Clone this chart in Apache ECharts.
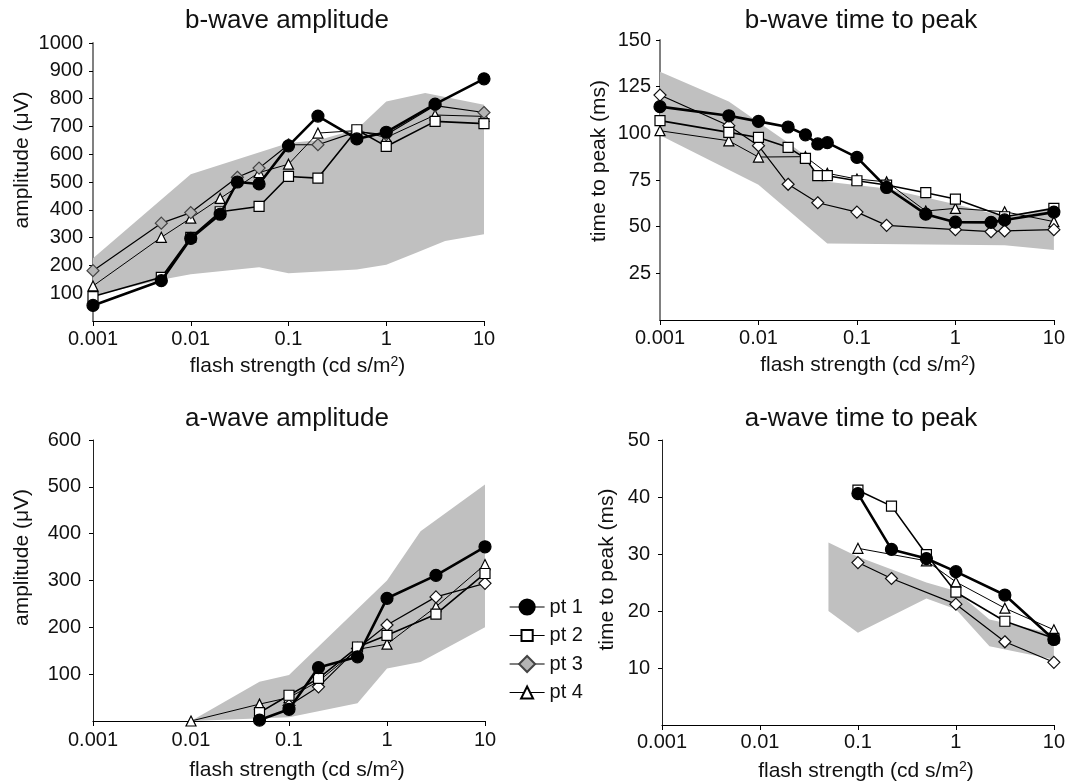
<!DOCTYPE html>
<html>
<head>
<meta charset="utf-8">
<title>ERG flash responses</title>
<script src="https://cdn.jsdelivr.net/npm/echarts@6/dist/echarts.min.js"></script>
<style>
  html, body { margin: 0; padding: 0; background: #fff; }
  #chart { width: 1068px; height: 783px; }
</style>
</head>
<body>
<div id="chart"></div>
<script>
const names = ['pt 1', 'pt 2', 'pt 3', 'pt 4'];

// b-wave amplitude (uV)
const bAmpX = [0.001, 0.005, 0.01, 0.02, 0.03, 0.05, 0.1, 0.2, 0.5, 1, 3.16, 10];
const bAmpPt1 = [56, 145, 297, 384, 500, 493, 630, 737, 655, 679, 780, 871];
const bAmpPt2 = [88, 157, 301, 393, null, 412, 520, 514, 688, 628, 718, 710];
const bAmpPt3 = [181, 352, 390, null, 517, 550, 634, 634, 681, 670, 775, 750];
const bAmpPt4 = [126, 301, 370, 441, null, 534, 564, 676, 685, 660, 741, 736];
const bAmpBandHigh = [[0.001, 226], [0.01, 528], [0.1, 640], [0.2, 650], [0.5, 690], [1, 790], [2.5, 820], [10, 778]];
const bAmpBandLow = [[0.001, 90], [0.005, 148], [0.01, 168], [0.05, 193], [0.1, 172], [0.5, 185], [1, 202], [2, 245], [4, 288], [10, 312]];

// b-wave time to peak (ms)
const bTimeX = [0.001, 0.005, 0.01, 0.02, 0.03, 0.04, 0.05, 0.1, 0.2, 0.5, 1, 2.3, 3.16, 10];
const bTimePt1 = [114.3, 109.4, 106.4, 103.4, 99.2, 94.3, 95, 87.1, 71, 56.7, 52.4, 52.3, 53.6, 57.8];
const bTimePt2 = [106.8, 100.5, 97.8, 92.5, 86.6, 77.3, 77.3, 74.6, 72.3, 68.2, 64.8, null, 55.3, 59.8];
const bTimePt3 = [120.5, 104.1, 93.4, 72.7, null, 62.8, null, 57.8, 50.7, null, 48.4, 47.3, 47.7, 48.4];
const bTimePt4 = [101.4, 96, 87.3, null, 87.5, null, 78.6, 75.5, 74, 58.4, 59.8, null, 58, 52.7];
const bTimeBandHigh = [[0.001, 133], [0.005, 117], [0.01, 106], [0.02, 95], [0.03, 88], [0.04, 77], [0.05, 74], [0.2, 70.5], [1, 62], [3.16, 55.5], [10, 60.5]];
const bTimeBandLow = [[0.001, 99], [0.01, 72.5], [0.05, 41], [3.16, 40], [10, 37.5]];

// a-wave amplitude (uV)
const aAmpX = [0.01, 0.05, 0.1, 0.2, 0.5, 1, 3.16, 10];
const aAmpPt1 = [null, 2, 25, 114, 137, 262, 311, 372];
const aAmpPt2 = [null, 18, 55, 91, 158, 183, 228, 315];
const aAmpPt3 = [null, null, 33, 73, 155, 205, 265, 294];
const aAmpPt4 = [0, 36, 50, 85, 153, 164, 244, 334];
const aAmpBandHigh = [[0.01, 0], [0.05, 84], [0.1, 98], [1, 300], [2.2, 405], [10, 505]];
const aAmpBandLow = [[0.01, 0], [0.1, 8], [0.5, 38], [1, 112], [2.2, 126], [10, 200]];

// a-wave time to peak (ms)
const aTimeX = [0.1, 0.22, 0.5, 1, 3.16, 10];
const aTimePt1 = [40.6, 30.8, 29.2, 26.9, 22.8, 15];
const aTimePt2 = [41.2, 38.4, 29.9, 23.3, 18.2, 15.2];
const aTimePt3 = [28.5, 25.7, null, 21.2, 14.6, 11];
const aTimePt4 = [31, null, 28.8, 25.1, 20.5, 16.7];
const aTimeBandHigh = [[0.05, 32], [0.1, 29.5], [0.5, 25], [1, 23.5], [2.2, 18.5], [10, 16]];
const aTimeBandLow = [[0.05, 20], [0.1, 16.2], [0.5, 22.2], [1, 20.3], [2.2, 13.8], [10, 11.5]];

const font = 'Liberation Sans';
const xName = 'flash strength (cd s/m{sup|2})';

const panels = [
  { title: 'b-wave amplitude', yName: 'amplitude (μV)', yMax: 1000, yStep: 100,
    x: bAmpX, ys: [bAmpPt1, bAmpPt2, bAmpPt3, bAmpPt4], high: bAmpBandHigh, low: bAmpBandLow,
    grid: { left: 93, right: 584, top: 43, bottom: 462 }, titleX: 287, titleTop: 8,
    yGap: 60, yShift: 22, yMargin: 10, xGap: 34, xShift: 9, xMargin: 8, yAxisColor: '#808080', yAxisWidth: 2 },
  { title: 'b-wave time to peak', yName: 'time to peak (ms)', yMax: 150, yStep: 25,
    x: bTimeX, ys: [bTimePt1, bTimePt2, bTimePt3, bTimePt4], high: bTimeBandHigh, low: bTimeBandLow,
    grid: { left: 660, right: 13, top: 40, bottom: 463 }, titleX: 861, titleTop: 8,
    yGap: 50, yShift: 19, yMargin: 9, xGap: 34, xShift: 11, xMargin: 8, yAxisColor: '#808080', yAxisWidth: 2 },
  { title: 'a-wave amplitude', yName: 'amplitude (μV)', yMax: 600, yStep: 100,
    x: aAmpX, ys: [aAmpPt1, aAmpPt2, aAmpPt3, aAmpPt4], high: aAmpBandHigh, low: aAmpBandLow,
    grid: { left: 93, right: 583, top: 440, bottom: 62 }, titleX: 287, titleTop: 406,
    yGap: 60, yShift: 23, yMargin: 12, xGap: 38, xShift: 8, xMargin: 9, yAxisColor: '#222', yAxisWidth: 1 },
  { title: 'a-wave time to peak', yName: 'time to peak (ms)', yMax: 50, yStep: 10,
    x: aTimeX, ys: [aTimePt1, aTimePt2, aTimePt3, aTimePt4], high: aTimeBandHigh, low: aTimeBandLow,
    grid: { left: 662, right: 8, top: 440, bottom: 58 }, titleX: 861, titleTop: 406,
    yGap: 44, yShift: 13, yMargin: 12, xGap: 35, xShift: 8, xMargin: 7, yAxisColor: '#222', yAxisWidth: 1 }
];

const marks = [
  { symbol: 'circle', size: 12, lw: 2.6, fill: '#000', border: '#000', z: 6, legendH: 19 },
  { symbol: 'rect', size: 10, lw: 1.6, fill: '#fff', border: '#000', z: 5, legendH: 14 },
  { symbol: 'diamond', size: 12, lw: 1.2, fill: '#fff', border: '#111', z: 4, legendH: 20 },
  { symbol: 'triangle', size: 10, lw: 1, fill: '#fff', border: '#000', z: 3, legendH: 15 }
];

function bandSeries(idx, high, low) {
  const poly = high.concat(low.slice().reverse());
  return {
    type: 'custom', xAxisIndex: idx, yAxisIndex: idx, silent: true, z: 1,
    data: poly, encode: { x: 0, y: 1 },
    renderItem: function (params, api) {
      if (params.dataIndex !== 0) return null;
      return {
        type: 'polygon',
        shape: { points: poly.map(p => api.coord(p)) },
        style: { fill: '#c0c0c0' }
      };
    }
  };
}

function lineSeries(idx, k, xs, vals) {
  const m = marks[k];
  const data = [];
  xs.forEach((x, i) => { if (vals[i] != null) data.push([x, vals[i]]); });
  // diamonds are grey in the b-wave amplitude panel (and legend)
  const grey = idx === 0 && k === 2;
  return {
    type: 'line', name: names[k], xAxisIndex: idx, yAxisIndex: idx, data: data,
    symbol: m.symbol, symbolSize: m.size, z: m.z, showAllSymbol: true,
    lineStyle: { color: '#000', width: m.lw },
    itemStyle: { color: grey ? '#b4b4b4' : m.fill, borderColor: grey ? '#444' : m.border, borderWidth: 1.2 },
    emphasis: { disabled: true }
  };
}

const series = [];
panels.forEach((p, i) => {
  p.ys.forEach((vals, k) => series.push(lineSeries(i, k, p.x, vals)));
});
panels.forEach((p, i) => series.push(bandSeries(i, p.high, p.low)));

const fmt = v => String(parseFloat(Number(v).toPrecision(3)));

const option = {
  animation: false,
  backgroundColor: '#fff',
  textStyle: { fontFamily: font, color: '#111' },
  title: panels.map(p => ({
    text: p.title, left: p.titleX, top: p.titleTop, textAlign: 'center', padding: 0,
    textStyle: { fontFamily: font, fontSize: 26, fontWeight: 'normal', color: '#111' }
  })),
  legend: names.map((n, i) => ({
    data: [n], left: 509, top: 597 + i * 28.5, orient: 'vertical', selectedMode: false, padding: 0,
    itemWidth: 35, itemHeight: marks[i].legendH,
    lineStyle: { width: 1.2 },
    textStyle: { fontFamily: font, fontSize: 20, color: '#111' }
  })),
  grid: panels.map(p => Object.assign({ containLabel: false }, p.grid)),
  xAxis: panels.map((p, i) => ({
    type: 'log', logBase: 10, min: 0.001, max: 10, gridIndex: i,
    axisLine: { lineStyle: { color: '#000', width: 1.2 } },
    axisTick: { length: 5, lineStyle: { color: '#000' } },
    axisLabel: { fontFamily: font, fontSize: 20, color: '#111', margin: p.xMargin, formatter: fmt },
    splitLine: { show: false }, minorTick: { show: false },
    name: xName, nameLocation: 'middle', nameGap: p.xGap,
    nameTextStyle: {
      fontFamily: font, fontSize: 21, color: '#111', padding: [0, 0, 0, 2 * p.xShift],
      rich: { sup: { fontFamily: font, fontSize: 14, color: '#111', verticalAlign: 'top', lineHeight: 22 } }
    }
  })),
  yAxis: panels.map((p, i) => ({
    type: 'value', min: 0, max: p.yMax, interval: p.yStep, gridIndex: i,
    axisLine: { show: true, lineStyle: { color: p.yAxisColor, width: p.yAxisWidth } },
    axisTick: { show: true, length: 4, lineStyle: { color: '#000' } },
    axisLabel: { fontFamily: font, fontSize: 20, color: '#111', margin: p.yMargin, showMinLabel: false,
      formatter: v => String(v) },
    splitLine: { show: false },
    name: p.yName, nameLocation: 'middle', nameGap: p.yGap,
    nameTextStyle: { fontFamily: font, fontSize: 21, color: '#111', padding: [0, 0, 0, 2 * p.yShift] }
  })),
  series: series
};

const chart = echarts.init(document.getElementById('chart'), null, { renderer: 'canvas' });
chart.setOption(option);
</script>
</body>
</html>
